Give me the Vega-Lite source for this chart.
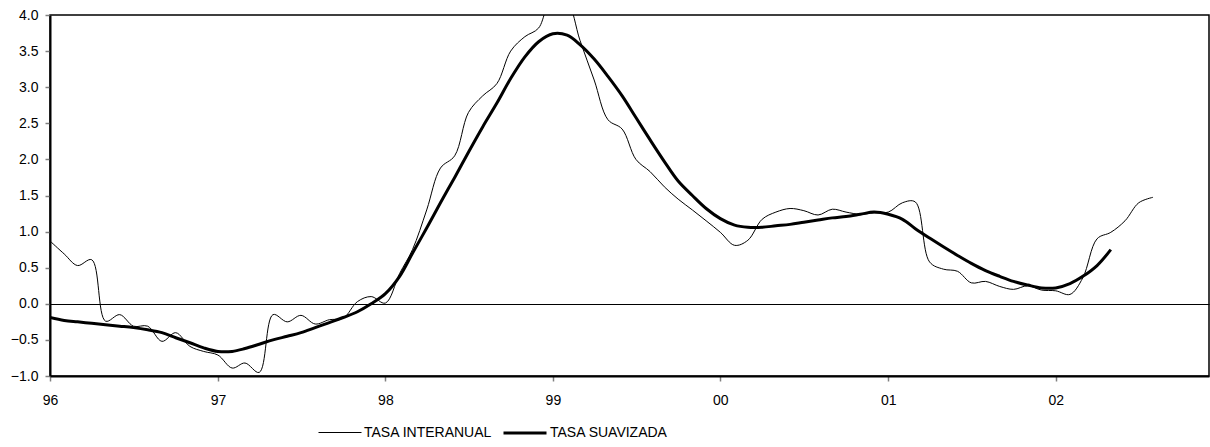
{
  "$schema": "https://vega.github.io/schema/vega-lite/v6.json",
  "width": 1159,
  "height": 361,
  "autosize": {"type": "none"},
  "padding": {"left": 50, "top": 15, "right": 1, "bottom": 71},
  "background": "white",
  "config": {
    "view": {"stroke": "#000", "strokeWidth": 1.5},
    "font": "Liberation Sans"
  },
  "data": {
    "values": [
      {"date": "1996-01-01", "TASA INTERANUAL": 0.87, "TASA SUAVIZADA": -0.19},
      {"date": "1996-02-01", "TASA INTERANUAL": 0.69, "TASA SUAVIZADA": -0.23},
      {"date": "1996-03-01", "TASA INTERANUAL": 0.53, "TASA SUAVIZADA": -0.25},
      {"date": "1996-04-01", "TASA INTERANUAL": 0.61, "TASA SUAVIZADA": -0.27},
      {"date": "1996-05-01", "TASA INTERANUAL": -0.24, "TASA SUAVIZADA": -0.29},
      {"date": "1996-06-01", "TASA INTERANUAL": -0.15, "TASA SUAVIZADA": -0.31},
      {"date": "1996-07-01", "TASA INTERANUAL": -0.31, "TASA SUAVIZADA": -0.33},
      {"date": "1996-08-01", "TASA INTERANUAL": -0.31, "TASA SUAVIZADA": -0.36},
      {"date": "1996-09-01", "TASA INTERANUAL": -0.52, "TASA SUAVIZADA": -0.40},
      {"date": "1996-10-01", "TASA INTERANUAL": -0.40, "TASA SUAVIZADA": -0.47},
      {"date": "1996-11-01", "TASA INTERANUAL": -0.59, "TASA SUAVIZADA": -0.54},
      {"date": "1996-12-01", "TASA INTERANUAL": -0.66, "TASA SUAVIZADA": -0.61},
      {"date": "1997-01-01", "TASA INTERANUAL": -0.71, "TASA SUAVIZADA": -0.66},
      {"date": "1997-02-01", "TASA INTERANUAL": -0.89, "TASA SUAVIZADA": -0.66},
      {"date": "1997-03-01", "TASA INTERANUAL": -0.82, "TASA SUAVIZADA": -0.62},
      {"date": "1997-04-01", "TASA INTERANUAL": -0.95, "TASA SUAVIZADA": -0.56},
      {"date": "1997-05-01", "TASA INTERANUAL": -0.15, "TASA SUAVIZADA": -0.50},
      {"date": "1997-06-01", "TASA INTERANUAL": -0.25, "TASA SUAVIZADA": -0.45},
      {"date": "1997-07-01", "TASA INTERANUAL": -0.16, "TASA SUAVIZADA": -0.40},
      {"date": "1997-08-01", "TASA INTERANUAL": -0.28, "TASA SUAVIZADA": -0.33},
      {"date": "1997-09-01", "TASA INTERANUAL": -0.22, "TASA SUAVIZADA": -0.26},
      {"date": "1997-10-01", "TASA INTERANUAL": -0.20, "TASA SUAVIZADA": -0.19},
      {"date": "1997-11-01", "TASA INTERANUAL": 0.03, "TASA SUAVIZADA": -0.11},
      {"date": "1997-12-01", "TASA INTERANUAL": 0.10, "TASA SUAVIZADA": 0.0},
      {"date": "1998-01-01", "TASA INTERANUAL": 0.01, "TASA SUAVIZADA": 0.14},
      {"date": "1998-02-01", "TASA INTERANUAL": 0.42, "TASA SUAVIZADA": 0.38},
      {"date": "1998-03-01", "TASA INTERANUAL": 0.75, "TASA SUAVIZADA": 0.70},
      {"date": "1998-04-01", "TASA INTERANUAL": 1.30, "TASA SUAVIZADA": 1.05},
      {"date": "1998-05-01", "TASA INTERANUAL": 1.88, "TASA SUAVIZADA": 1.40},
      {"date": "1998-06-01", "TASA INTERANUAL": 2.05, "TASA SUAVIZADA": 1.75},
      {"date": "1998-07-01", "TASA INTERANUAL": 2.65, "TASA SUAVIZADA": 2.10},
      {"date": "1998-08-01", "TASA INTERANUAL": 2.88, "TASA SUAVIZADA": 2.45},
      {"date": "1998-09-01", "TASA INTERANUAL": 3.05, "TASA SUAVIZADA": 2.78},
      {"date": "1998-10-01", "TASA INTERANUAL": 3.50, "TASA SUAVIZADA": 3.12},
      {"date": "1998-11-01", "TASA INTERANUAL": 3.70, "TASA SUAVIZADA": 3.42},
      {"date": "1998-12-01", "TASA INTERANUAL": 3.82, "TASA SUAVIZADA": 3.63},
      {"date": "1999-01-01", "TASA INTERANUAL": 4.30, "TASA SUAVIZADA": 3.74},
      {"date": "1999-02-01", "TASA INTERANUAL": 4.20, "TASA SUAVIZADA": 3.72},
      {"date": "1999-03-01", "TASA INTERANUAL": 3.65, "TASA SUAVIZADA": 3.59},
      {"date": "1999-04-01", "TASA INTERANUAL": 3.10, "TASA SUAVIZADA": 3.39},
      {"date": "1999-05-01", "TASA INTERANUAL": 2.55, "TASA SUAVIZADA": 3.15},
      {"date": "1999-06-01", "TASA INTERANUAL": 2.42, "TASA SUAVIZADA": 2.88},
      {"date": "1999-07-01", "TASA INTERANUAL": 2.00, "TASA SUAVIZADA": 2.58},
      {"date": "1999-08-01", "TASA INTERANUAL": 1.83, "TASA SUAVIZADA": 2.27},
      {"date": "1999-09-01", "TASA INTERANUAL": 1.62, "TASA SUAVIZADA": 1.97},
      {"date": "1999-10-01", "TASA INTERANUAL": 1.45, "TASA SUAVIZADA": 1.70},
      {"date": "1999-11-01", "TASA INTERANUAL": 1.30, "TASA SUAVIZADA": 1.50},
      {"date": "1999-12-01", "TASA INTERANUAL": 1.15, "TASA SUAVIZADA": 1.32},
      {"date": "2000-01-01", "TASA INTERANUAL": 0.99, "TASA SUAVIZADA": 1.18},
      {"date": "2000-02-01", "TASA INTERANUAL": 0.81, "TASA SUAVIZADA": 1.09},
      {"date": "2000-03-01", "TASA INTERANUAL": 0.88, "TASA SUAVIZADA": 1.06},
      {"date": "2000-04-01", "TASA INTERANUAL": 1.17, "TASA SUAVIZADA": 1.06},
      {"date": "2000-05-01", "TASA INTERANUAL": 1.27, "TASA SUAVIZADA": 1.08},
      {"date": "2000-06-01", "TASA INTERANUAL": 1.32, "TASA SUAVIZADA": 1.10},
      {"date": "2000-07-01", "TASA INTERANUAL": 1.29, "TASA SUAVIZADA": 1.13},
      {"date": "2000-08-01", "TASA INTERANUAL": 1.23, "TASA SUAVIZADA": 1.16},
      {"date": "2000-09-01", "TASA INTERANUAL": 1.31, "TASA SUAVIZADA": 1.19},
      {"date": "2000-10-01", "TASA INTERANUAL": 1.27, "TASA SUAVIZADA": 1.21},
      {"date": "2000-11-01", "TASA INTERANUAL": 1.24, "TASA SUAVIZADA": 1.24},
      {"date": "2000-12-01", "TASA INTERANUAL": 1.26, "TASA SUAVIZADA": 1.27},
      {"date": "2001-01-01", "TASA INTERANUAL": 1.27, "TASA SUAVIZADA": 1.24},
      {"date": "2001-02-01", "TASA INTERANUAL": 1.40, "TASA SUAVIZADA": 1.17},
      {"date": "2001-03-01", "TASA INTERANUAL": 1.41, "TASA SUAVIZADA": 1.04},
      {"date": "2001-04-01", "TASA INTERANUAL": 0.58, "TASA SUAVIZADA": 0.91},
      {"date": "2001-05-01", "TASA INTERANUAL": 0.48, "TASA SUAVIZADA": 0.79},
      {"date": "2001-06-01", "TASA INTERANUAL": 0.45, "TASA SUAVIZADA": 0.67},
      {"date": "2001-07-01", "TASA INTERANUAL": 0.29, "TASA SUAVIZADA": 0.56},
      {"date": "2001-08-01", "TASA INTERANUAL": 0.31, "TASA SUAVIZADA": 0.46},
      {"date": "2001-09-01", "TASA INTERANUAL": 0.24, "TASA SUAVIZADA": 0.38},
      {"date": "2001-10-01", "TASA INTERANUAL": 0.20, "TASA SUAVIZADA": 0.31},
      {"date": "2001-11-01", "TASA INTERANUAL": 0.25, "TASA SUAVIZADA": 0.26},
      {"date": "2001-12-01", "TASA INTERANUAL": 0.19, "TASA SUAVIZADA": 0.22},
      {"date": "2002-01-01", "TASA INTERANUAL": 0.18, "TASA SUAVIZADA": 0.22},
      {"date": "2002-02-01", "TASA INTERANUAL": 0.13, "TASA SUAVIZADA": 0.28},
      {"date": "2002-03-01", "TASA INTERANUAL": 0.36, "TASA SUAVIZADA": 0.38},
      {"date": "2002-04-01", "TASA INTERANUAL": 0.90, "TASA SUAVIZADA": 0.53},
      {"date": "2002-05-01", "TASA INTERANUAL": 0.99, "TASA SUAVIZADA": 0.75},
      {"date": "2002-06-01", "TASA INTERANUAL": 1.15},
      {"date": "2002-07-01", "TASA INTERANUAL": 1.40},
      {"date": "2002-08-01", "TASA INTERANUAL": 1.475}
    ]
  },
  "transform": [{"fold": ["TASA INTERANUAL", "TASA SUAVIZADA"], "as": ["serie", "valor"]}],
  "mark": {"type": "line", "interpolate": "catmull-rom", "clip": true},
  "encoding": {
    "x": {
      "field": "date", "type": "temporal",
      "scale": {"type": "utc", "domain": [{"year": 1996, "month": 1, "date": 1, "utc": true}, {"year": 2002, "month": 12, "date": 1, "utc": true}]},
      "axis": {
        "title": null, "grid": false,
        "values": [
          {"year": 1996, "month": 1, "date": 1, "utc": true},
          {"year": 1997, "month": 1, "date": 1, "utc": true},
          {"year": 1998, "month": 1, "date": 1, "utc": true},
          {"year": 1999, "month": 1, "date": 1, "utc": true},
          {"year": 2000, "month": 1, "date": 1, "utc": true},
          {"year": 2001, "month": 1, "date": 1, "utc": true},
          {"year": 2002, "month": 1, "date": 1, "utc": true}
        ],
        "labelExpr": "utcFormat(datum.value, '%y')",
        "labelFont": "Liberation Sans", "labelFontSize": 14, "labelColor": "#000",
        "labelPadding": 12, "labelFlush": false,
        "domainColor": "#000", "domainWidth": 2,
        "tickColor": "#808080", "tickSize": 5, "tickWidth": 1.5
      }
    },
    "y": {
      "field": "valor", "type": "quantitative",
      "scale": {"domain": [-1, 4], "nice": false, "zero": false},
      "axis": {
        "title": null, "format": ".1f",
        "values": [-1, -0.5, 0, 0.5, 1, 1.5, 2, 2.5, 3, 3.5, 4],
        "labelFont": "Liberation Sans", "labelFontSize": 14, "labelColor": "#000",
        "labelPadding": 7,
        "domainColor": "#000", "domainWidth": 2,
        "tickColor": "#808080", "tickSize": 5, "tickWidth": 1.5,
        "grid": true, "gridColor": "#000", "gridWidth": 1,
        "gridOpacity": {"condition": {"test": "datum.value === 0", "value": 1}, "value": 0}
      }
    },
    "color": {
      "field": "serie", "type": "nominal",
      "scale": {"domain": ["TASA INTERANUAL", "TASA SUAVIZADA"], "range": ["#000", "#000"]},
      "legend": {"title": null, "orient": "none", "legendX": 268, "legendY": 395, "direction": "horizontal", "symbolType": "stroke", "symbolSize": 1849, "columnPadding": 4, "labelOffset": 2, "labelFont": "Liberation Sans", "labelFontSize": 14, "labelColor": "#000"}
    },
    "strokeWidth": {
      "field": "serie", "type": "nominal",
      "scale": {"domain": ["TASA INTERANUAL", "TASA SUAVIZADA"], "range": [1, 3]},
      "legend": {"title": null, "orient": "none", "legendX": 268, "legendY": 395, "direction": "horizontal", "symbolType": "stroke", "symbolSize": 1849, "columnPadding": 4, "labelOffset": 2, "labelFont": "Liberation Sans", "labelFontSize": 14, "labelColor": "#000"}
    }
  }
}
